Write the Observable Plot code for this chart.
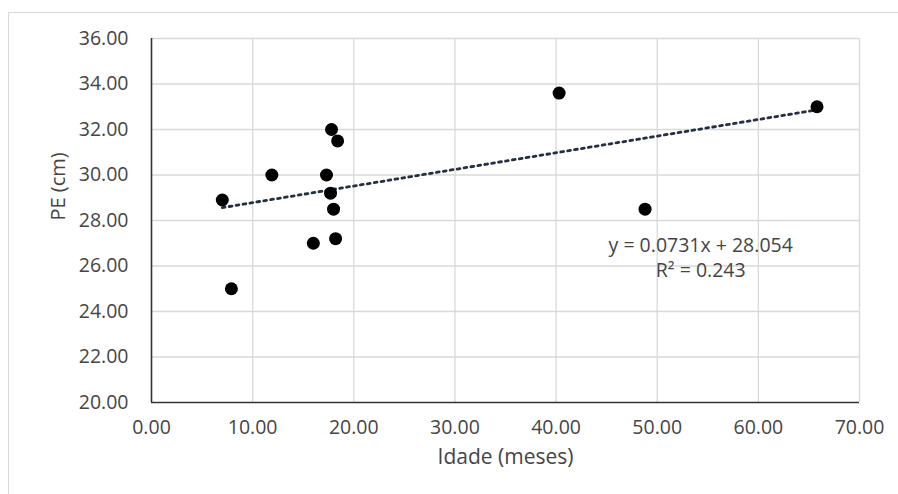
<!DOCTYPE html>
<html>
<head>
<meta charset="utf-8">
<script src="https://cdn.jsdelivr.net/npm/d3@7"></script>
<script src="https://cdn.jsdelivr.net/npm/@observablehq/plot@0.6"></script>
<style>
  html, body { margin: 0; padding: 0; background: #fff; }
  #wrap { position: relative; width: 898px; height: 494px; overflow: hidden; }
  #border { position: absolute; left: 8px; top: 12px; width: 920px; height: 520px;
            border: 1.5px solid #d9d9d9; pointer-events: none; }
  svg { display: block; }
</style>
</head>
<body>
<div id="wrap"><div id="border"></div><div id="chart"></div></div>
<script>
// Data
const idade = [7.0, 7.9, 11.9, 17.8, 18.4, 17.3, 17.7, 18.0, 16.0, 18.2, 48.8, 65.8, 40.3];
const pe    = [28.9, 25.0, 30.0, 32.0, 31.5, 30.0, 29.2, 28.5, 27.0, 27.2, 28.5, 33.0, 33.6];
const slope = 0.0731;
const intercept = 28.054;
const eqLabels = ["y = 0.0731x + 28.054", "R² = 0.243"];
const xTicks = [0, 10, 20, 30, 40, 50, 60, 70];
const yTicks = [20, 22, 24, 26, 28, 30, 32, 34, 36];
const xTitle = "Idade (meses)";
const yTitle = "PE (cm)";

const points = idade.map((x, i) => ({x, y: pe[i]}));
const xmin = d3.min(idade), xmax = d3.max(idade);
const trend = [xmin, xmax].map(x => ({x, y: intercept + slope * x}));
const eq = [{x: 54.3, y: 26.9, t: eqLabels[0]}, {x: 54.3, y: 25.8, t: eqLabels[1]}];

const font = "'Open Sans', sans-serif";
const txt = "#454545";

const chart = Plot.plot({
  width: 898,
  height: 494,
  marginLeft: 151,
  marginRight: 39,
  marginTop: 38,
  marginBottom: 92,
  style: {fontFamily: font, fontSize: "19.5px", color: txt, background: "transparent"},
  x: {domain: [0, 70], ticks: xTicks, tickFormat: d3.format(".2f"), tickSize: 0, tickPadding: 18, label: null},
  y: {domain: [20, 36], ticks: yTicks, tickFormat: d3.format(".2f"), tickSize: 0, tickPadding: 23, label: null},
  marks: [
    Plot.gridX(xTicks.filter(d => d > 0), {stroke: "#d9d9d9", strokeOpacity: 1, strokeWidth: 1.3}),
    Plot.gridY(yTicks.filter(d => d > 20), {stroke: "#d9d9d9", strokeOpacity: 1, strokeWidth: 1.3}),
    Plot.axisX({ticks: xTicks, tickFormat: d3.format(".2f"), tickSize: 0, tickPadding: 18, label: null, fill: txt}),
    Plot.axisY({ticks: yTicks, tickFormat: d3.format(".2f"), tickSize: 0, tickPadding: 23, label: null, fill: txt}),
    Plot.ruleX([0], {stroke: "#333", strokeWidth: 1.6}),
    Plot.ruleY([20], {stroke: "#333", strokeWidth: 1.6}),
    Plot.line(trend, {x: "x", y: "y", stroke: "#243040", strokeWidth: 2.8, strokeDasharray: "2.8,4.2"}),
    Plot.dot(points, {x: "x", y: "y", r: 6.5, fill: "#000", stroke: "none"}),
    Plot.text(eq, {x: "x", y: "y", text: "t", fill: txt, fontSize: 19.5}),
    Plot.text([xTitle], {frameAnchor: "bottom", dy: 61, fill: txt, fontSize: 21}),
    Plot.text([yTitle], {frameAnchor: "left", dx: -93, rotate: -90, fill: txt, fontSize: 20})
  ]
});
document.getElementById("chart").appendChild(chart);
</script>
</body>
</html>
